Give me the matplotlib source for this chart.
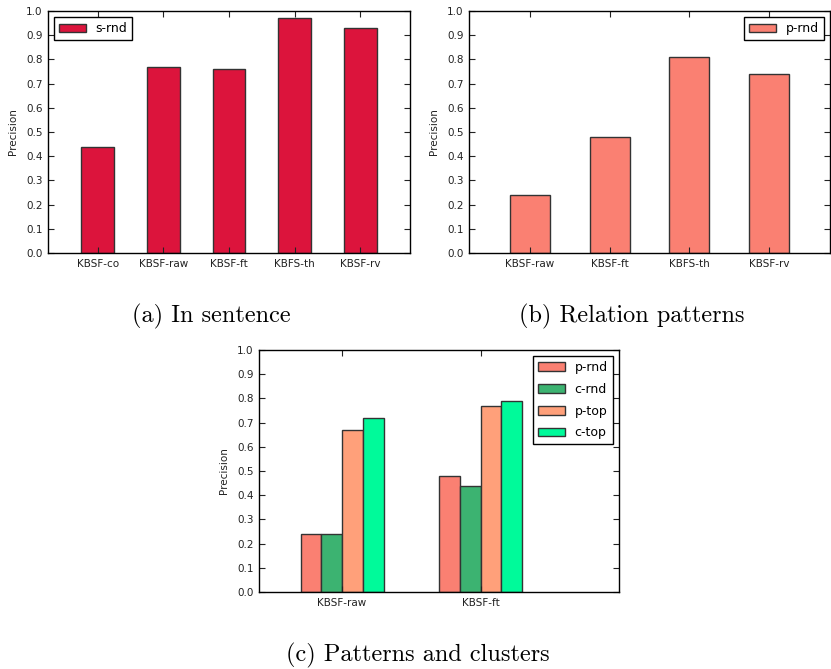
import numpy as np
import matplotlib
matplotlib.use('Agg')
import matplotlib.pyplot as plt

# data
cats_a = ['KBSF-co', 'KBSF-raw', 'KBSF-ft', 'KBFS-th', 'KBSF-rv']
s_rnd = [0.44, 0.77, 0.76, 0.97, 0.93]

cats_b = ['KBSF-raw', 'KBSF-ft', 'KBFS-th', 'KBSF-rv']
p_rnd_b = [0.24, 0.48, 0.81, 0.74]

cats_c = ['KBSF-raw', 'KBSF-ft']
p_rnd = [0.24, 0.48]
c_rnd = [0.24, 0.44]
p_top = [0.67, 0.77]
c_top = [0.72, 0.79]

W, H = 831, 669
fig = plt.figure(figsize=(W / 100, H / 100), dpi=100)
fig.patch.set_facecolor('white')

edge = '#333333'
yticks = np.arange(0, 1.01, 0.1)


def ax_at(l, t, r, b):
    return fig.add_axes([l / W, 1 - b / H, (r - l) / W, (b - t) / H])


def style(ax, xlim, cats):
    ax.set_ylim(0, 1)
    ax.set_xlim(*xlim)
    ax.set_yticks(yticks)
    ax.set_yticklabels(['%.1f' % v for v in yticks])
    ax.set_xticks(range(len(cats)))
    ax.set_xticklabels(cats)
    ax.tick_params(direction='in', top=True, right=True, length=4,
                   width=0.8, labelsize=7.5, colors='#222222', pad=4)
    for s in ax.spines.values():
        s.set_color('black')
        s.set_linewidth(1)
    ax.set_ylabel('Precision', fontsize=7.5, color='#222222', labelpad=6)


def leg(ax, loc):
    ax.legend(loc=loc, fontsize=9, fancybox=False, edgecolor='black',
              framealpha=1, handlelength=2.1, labelspacing=0.7,
              borderaxespad=0.5)


# (a)
ax = ax_at(48, 11, 410, 253)
x = np.arange(len(cats_a))
ax.bar(x, s_rnd, 0.5, color='#DC143C', edgecolor=edge, lw=1, label='s-rnd')
style(ax, (-0.76, 4.76), cats_a)
leg(ax, 'upper left')

# (b)
ax = ax_at(469, 11, 830, 253)
x = np.arange(len(cats_b))
ax.bar(x, p_rnd_b, 0.5, color='#FA8072', edgecolor=edge, lw=1, label='p-rnd')
style(ax, (-0.76, 3.76), cats_b)
leg(ax, 'upper right')

# (c)
ax = ax_at(259, 350, 619, 592)
x = np.arange(len(cats_c))
w = 0.15
series = [('p-rnd', p_rnd, '#FA8072'), ('c-rnd', c_rnd, '#3CB371'),
          ('p-top', p_top, '#FFA07A'), ('c-top', c_top, '#00FA9A')]
for i, (name, vals, col) in enumerate(series):
    ax.bar(x - 1.5 * w + i * w, vals, w, color=col, edgecolor=edge, lw=1,
           label=name)
style(ax, (-0.6, 2.0), cats_c)
leg(ax, 'upper right')

# captions
cap = dict(fontsize=17.5, family='cmr10', ha='center', va='center')
fig.text(211 / W, 1 - 316 / H, '(a) In sentence', **cap)
fig.text(632 / W, 1 - 316 / H, '(b) Relation patterns', **cap)
fig.text(418 / W, 1 - 655 / H, '(c) Patterns and clusters', **cap)

fig.savefig('out.png', dpi=100, facecolor='white')
